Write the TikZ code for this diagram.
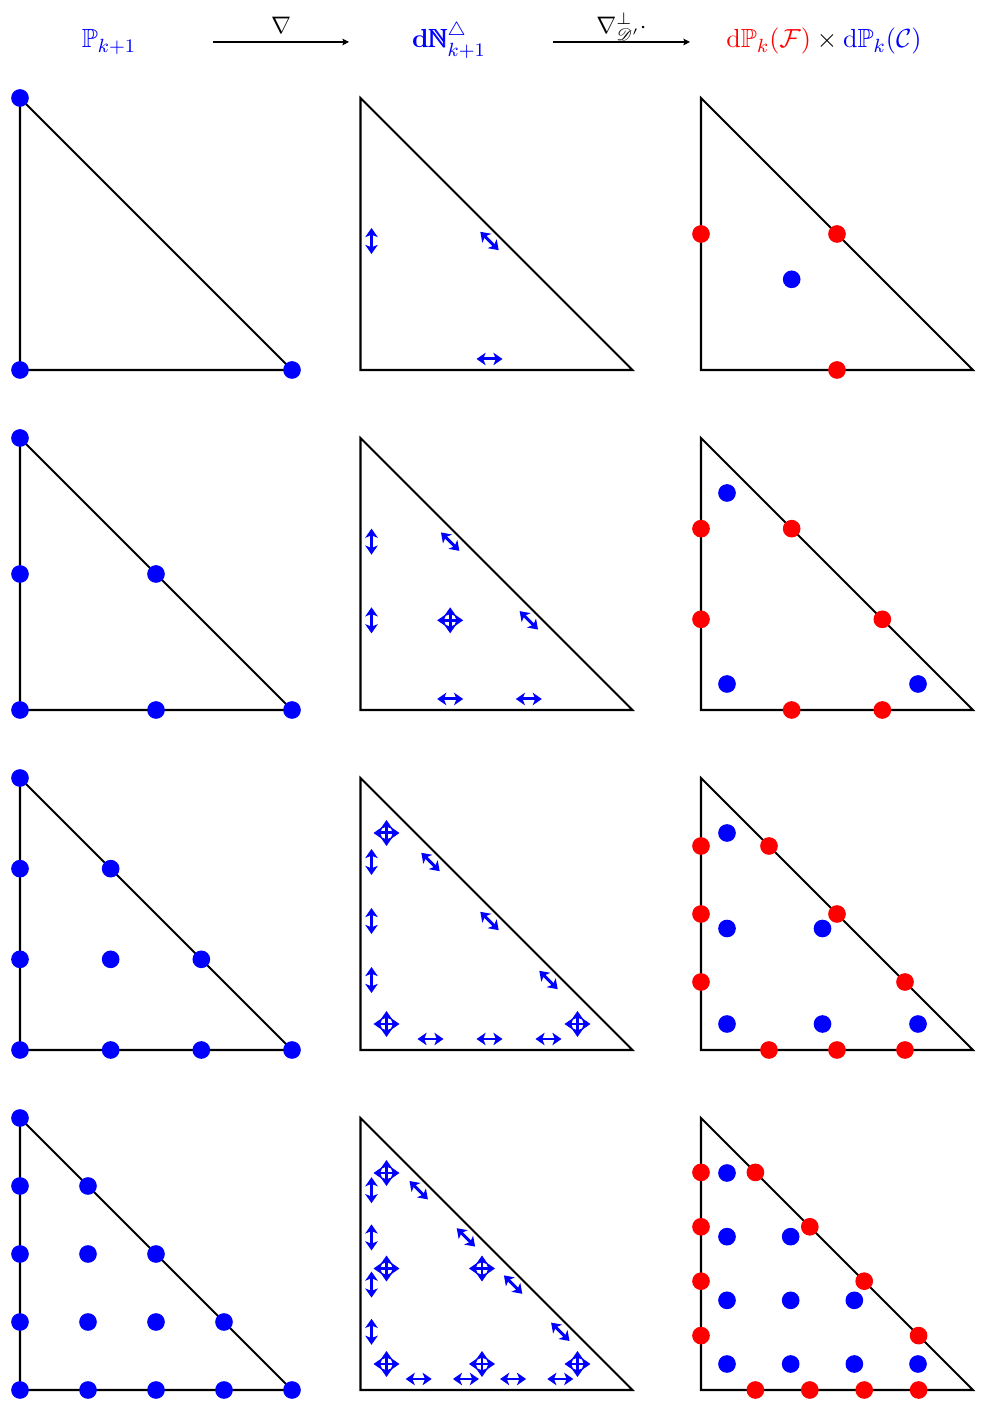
\documentclass[tikz,border=0pt]{standalone}
\usepackage{amsmath,amssymb}
\usepackage{mathrsfs}
\usetikzlibrary{arrows.meta}
\begin{document}
\begin{tikzpicture}[x=0.41842pt,y=0.41842pt,
  tri/.style={line width=0.85pt, line join=miter},
  dofarrow/.style={blue, line width=1.25pt, {Stealth[length=3.8pt,width=5.2pt,inset=1pt]}-{Stealth[length=3.8pt,width=5.2pt,inset=1pt]}},
  hdarrow/.style={line width=0.45pt, -{Stealth[length=2.8pt,width=2.8pt,inset=0.6pt]}},
  lbl/.style={anchor=base, yshift=3.56pt, inner sep=0pt},
  hdtext/.style={anchor=base, inner sep=0pt, font=\fontsize{11pt}{13pt}\selectfont},
  dofcross/.pic={\draw[dofarrow] (-13,0) -- (13,0); \draw[dofarrow] (0,-13) -- (0,13);}]
\useasboundingbox (0,0) rectangle (981,1406);

% ---------- header ----------
\node[hdtext, blue] (P) at (109,1358) {$\mathbb{P}_{k+1}$};
\node[hdtext, blue] (N) at (449,1358) {$\mathbf{d}\pmb{\mathbb{N}}^{\triangle}_{k+1}$};
\node[hdtext] (D) at (824,1358) {$\textcolor{red}{\mathrm{d}\mathbb{P}_k(\mathcal{F})}\times\textcolor{blue}{\mathrm{d}\mathbb{P}_k(\mathcal{C})}$};
\coordinate (a1s) at (213,1364);
\coordinate (a1e) at (349,1364);
\coordinate (a2s) at (553,1364);
\coordinate (a2e) at (690,1364);
\draw[hdarrow] (a1s) -- node[lbl] (l1) {$\nabla$} (a1e);
\draw[hdarrow] (a2s) -- node[lbl] (l2) {$\nabla^{\perp}_{\mathscr{D}'}\cdot$} (a2e);

% ---------- column 1: Lagrange P_{k+1} ----------
\foreach \n in {1,...,4} {
  \pgfmathsetmacro\yb{1036-340*(\n-1)}
  \begin{scope}[shift={(20,\yb)}]
    \draw[tri] (0,272) -- (0,0) -- (272,0) -- cycle;
    \foreach \i in {0,...,\n} {
      \pgfmathtruncatemacro\jmax{\n-\i}
      \foreach \j in {0,...,\jmax} {
        \fill[blue] ({272*\i/\n},{272*\j/\n}) circle[radius=3.7pt];
      }
    }
  \end{scope}
}

% ---------- column 2: dN_{k+1} ----------
\foreach \n in {1,...,4} {
  \pgfmathsetmacro\yb{1036-340*(\n-1)}
  \pgfmathsetmacro\h{236/(\n+1)}
  \begin{scope}[shift={(360.5,\yb)}]
    \draw[tri] (0,272) -- (0,0) -- (272,0) -- cycle;
    \foreach \i in {1,...,\n} {
      \pgfmathsetmacro\p{11+\h*\i}
      \pgfmathsetmacro\q{11+\h*(\n+1-\i)}
      \draw[dofarrow] (11,\p-13) -- (11,\p+13);
      \draw[dofarrow] (\p-13,11) -- (\p+13,11);
      \draw[dofarrow] (\p-9.19,\q+9.19) -- (\p+9.19,\q-9.19);
    }
    \ifnum\n=2
      \pic at (89.67,89.67) {dofcross};
    \fi
    \ifnum\n>2
      \pgfmathtruncatemacro\m{\n-2}
      \foreach \i in {0,...,\m} {
        \pgfmathtruncatemacro\jmax{\m-\i}
        \foreach \j in {0,...,\jmax} {
          \pic at ({26+191*\i/\m},{26+191*\j/\m}) {dofcross};
        }
      }
    \fi
  \end{scope}
}

% ---------- column 3: dP_k(F) x dP_k(C) ----------
\foreach \n in {1,...,4} {
  \pgfmathsetmacro\yb{1036-340*(\n-1)}
  \begin{scope}[shift={(701,\yb)}]
    \draw[tri] (0,272) -- (0,0) -- (272,0) -- cycle;
    \ifnum\n=1
      \fill[blue] (90.67,90.67) circle[radius=3.7pt];
    \else
      \pgfmathtruncatemacro\m{\n-1}
      \foreach \i in {0,...,\m} {
        \pgfmathtruncatemacro\jmax{\m-\i}
        \foreach \j in {0,...,\jmax} {
          \fill[blue] ({26+191*\i/\m},{26+191*\j/\m}) circle[radius=3.7pt];
        }
      }
    \fi
    \foreach \i in {1,...,\n} {
      \pgfmathsetmacro\p{272*\i/(\n+1)}
      \pgfmathsetmacro\q{272*(\n+1-\i)/(\n+1)}
      \fill[red] (0,\p) circle[radius=3.7pt];
      \fill[red] (\p,0) circle[radius=3.7pt];
      \fill[red] (\p,\q) circle[radius=3.7pt];
    }
  \end{scope}
}
\end{tikzpicture}
\end{document}
